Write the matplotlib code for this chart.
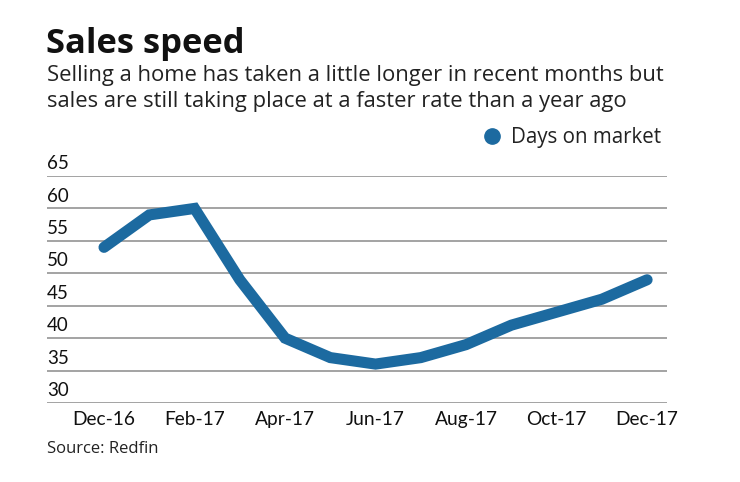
import matplotlib.pyplot as plt
import matplotlib.transforms as mtransforms

months = ['Dec-16', 'Jan-17', 'Feb-17', 'Mar-17', 'Apr-17', 'May-17', 'Jun-17',
          'Jul-17', 'Aug-17', 'Sep-17', 'Oct-17', 'Nov-17', 'Dec-17']
days_on_market = [54, 59, 60, 49, 40, 37, 36, 37, 39, 42, 44, 46, 49]
y_ticks = [30, 35, 40, 45, 50, 55, 60, 65]

BLUE = '#1c6aa0'
FONT = 'Lato'
WIDE = 'Open Sans'


def plot():
    """draw the chart"""
    fig = plt.figure(figsize=(7.4, 4.82), dpi=100)
    ax = fig.add_axes([47 / 740, 79 / 482, 620 / 740, 227 / 482])

    x = list(range(len(months)))
    ax.plot(x, days_on_market, color=BLUE, lw=8, solid_capstyle='round',
            solid_joinstyle='miter', clip_on=False, zorder=3)

    ax.set_xlim(-1.26, 12.44)
    ax.set_ylim(30, 65)
    for v in y_ticks:
        ax.axhline(v, color='#8a8a8a', lw=1.1, zorder=1)
    trans = mtransforms.blended_transform_factory(ax.transAxes, ax.transData)
    for v in y_ticks:
        ax.text(0, v + 0.6, str(v), transform=trans, ha='left', va='bottom',
                fontsize=13.5, family=FONT, color='#111111')

    ax.set_yticks([])
    ax.set_xticks(x[::2])
    ax.set_xticklabels(months[::2], fontsize=13.8, family=FONT, color='#111111')
    ax.tick_params(axis='x', length=0, pad=6)
    for s in ax.spines.values():
        s.set_visible(False)

    fig.text(46 / 740, 1 - 53 / 482, 'Sales speed', fontsize=24.8, weight='bold',
             family=WIDE, color='#111111', ha='left', va='baseline')
    fig.text(47 / 740, 1 - 81 / 482,
             'Selling a home has taken a little longer in recent months but',
             fontsize=15.8, family=WIDE, color='#222222', ha='left', va='baseline')
    fig.text(47 / 740, 1 - 107 / 482,
             'sales are still taking place at a faster rate than a year ago',
             fontsize=15.8, family=WIDE, color='#222222', ha='left', va='baseline')

    fig.text(511 / 740, 1 - 137 / 482, 'Days on market', fontsize=14.8,
             family=WIDE, color='#222222', ha='left', va='center')
    fig.lines.append(plt.Line2D([492 / 740], [1 - 136 / 482], marker='o',
                                markersize=11, color=BLUE, transform=fig.transFigure))

    fig.text(47 / 740, 1 - 449 / 482, 'Source: Redfin', fontsize=12,
             family=WIDE, color='#222222', ha='left', va='center')

    fig.savefig('out.png', dpi=100)


if __name__ == "__main__":
    plot()
